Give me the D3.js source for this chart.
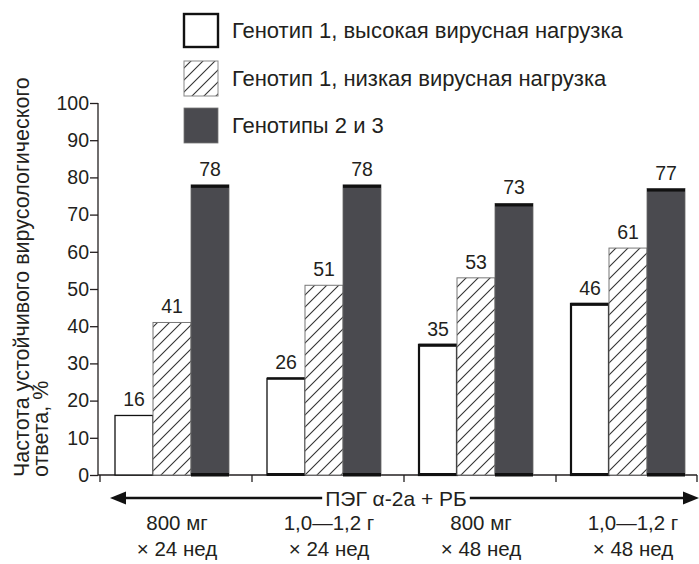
<!DOCTYPE html>
<html><head><meta charset="utf-8">
<script src="https://cdn.jsdelivr.net/npm/d3@7"></script>
<style>body{margin:0;background:#fff}svg{display:block;font-family:"Liberation Sans",Arial,sans-serif}</style>
</head><body>
<svg id="c" width="699" height="564"></svg>
<script>
const groups = ["g1","g2","g3","g4"];
const groupLine1 = ["800 мг","1,0—1,2 г","800 мг","1,0—1,2 г"];
const groupLine2 = ["× 24 нед","× 24 нед","× 48 нед","× 48 нед"];
const seriesNames = ["Генотип 1, высокая вирусная нагрузка","Генотип 1, низкая вирусная нагрузка","Генотипы 2 и 3"];
const highLoad = [16,26,35,46];
const lowLoad = [41,51,53,61];
const geno23 = [78,78,73,77];
const yTicks = [0,10,20,30,40,50,60,70,80,90,100];
const seriesKeys = ["high","low","g23"];
const seriesData = {high: highLoad, low: lowLoad, g23: geno23};

const svg = d3.select("#c");
const txt = "#231f20";
const dark = "#4a4a4f";
const FF = "Liberation Sans, Arial, sans-serif";

const defs = svg.append("defs");
const pat = defs.append("pattern").attr("id","hatch").attr("patternUnits","userSpaceOnUse")
  .attr("width",12).attr("height",12);
pat.append("rect").attr("width",12).attr("height",12).attr("fill","#fff");
pat.append("path").attr("d","M-3,3 L3,-3 M0,12 L12,0 M9,15 L15,9").attr("stroke","#333").attr("stroke-width",1.1);

const y = d3.scaleLinear().domain([0,100]).range([475,103]);
const x0 = d3.scaleBand().domain(groups).range([100,708]);
const x1 = d3.scaleBand().domain(seriesKeys).range([15,129]);

// y axis
const yAxis = svg.append("g").attr("transform","translate(98,0)")
  .call(d3.axisLeft(y).tickValues(yTicks).tickSize(8).tickPadding(1));
yAxis.select(".domain").attr("stroke",txt).attr("stroke-width",1.3).attr("d","M0,103V475");
yAxis.selectAll(".tick line").attr("stroke",txt).attr("stroke-width",1.3);
yAxis.selectAll(".tick text").attr("fill",txt).attr("font-size",19.5).attr("font-family",FF);

// x axis line
svg.append("line").attr("x1",98).attr("x2",697).attr("y1",475).attr("y2",475).attr("stroke",txt).attr("stroke-width",1.3);
svg.selectAll(".gtick").data(groups.concat(["end"])).enter().append("line")
  .attr("x1",d=> d==="end"?697:x0(d)).attr("x2",d=> d==="end"?697:x0(d))
  .attr("y1",475).attr("y2",482).attr("stroke",txt).attr("stroke-width",1.3);

// bars
groups.forEach((g,gi)=>{
  const gx = x0(g);
  seriesKeys.forEach((k)=>{
    const v = seriesData[k][gi];
    const bx = gx + x1(k), bw = x1.bandwidth();
    const top = y(v), h = y(0)-y(v);
    if(k==="high"){
      svg.append("rect").attr("x",bx).attr("y",top).attr("width",bw).attr("height",h)
        .attr("fill","#fff").attr("stroke","#111").attr("stroke-width", gi>=2?2.2:1.3);
      if(gi>=1){
        svg.append("rect").attr("x",bx).attr("y",top-1).attr("width",bw).attr("height",gi>=2?3:2.5).attr("fill","#111");
        svg.append("rect").attr("x",bx).attr("y",y(0)-2).attr("width",bw).attr("height",3).attr("fill","#111");
      }
    } else if(k==="low"){
      svg.append("rect").attr("x",bx).attr("y",top).attr("width",bw).attr("height",h)
        .attr("fill","url(#hatch)").attr("stroke","#777").attr("stroke-width",1);
    } else {
      svg.append("rect").attr("x",bx).attr("y",top).attr("width",bw).attr("height",h)
        .attr("fill",dark).attr("stroke","#666").attr("stroke-width",0.8);
      svg.append("rect").attr("x",bx).attr("y",top).attr("width",bw).attr("height",3).attr("fill","#111");
      svg.append("rect").attr("x",bx).attr("y",y(0)-2).attr("width",bw).attr("height",3.5).attr("fill","#111");
    }
    svg.append("text").attr("x",bx+bw/2).attr("y",top-9).attr("text-anchor","middle")
      .attr("font-size",19.5).attr("fill",txt).text(v);
  });
  const cx = gx + 15 + 114/2 + 5;
  svg.append("text").attr("x",cx).attr("y",530).attr("text-anchor","middle").attr("font-size",20.5).attr("fill",txt).text(groupLine1[gi]);
  svg.append("text").attr("x",cx).attr("y",556).attr("text-anchor","middle").attr("font-size",20.5).attr("fill",txt).text(groupLine2[gi]);
});

// arrow
svg.append("line").attr("x1",116).attr("x2",693).attr("y1",498).attr("y2",498).attr("stroke","#111").attr("stroke-width",2.5);
svg.append("path").attr("d","M110,498 L126,491.5 L126,504.5 Z").attr("fill","#111");
svg.append("path").attr("d","M699,498 L683,491.5 L683,504.5 Z").attr("fill","#111");
const abg = svg.append("rect").attr("fill","#fff");
const at = svg.append("text").attr("x",396).attr("y",505.5).attr("text-anchor","middle").attr("font-size",21).attr("fill",txt)
  .text("ПЭГ α-2а + РБ");
const bb = at.node().getBBox();
abg.attr("x",bb.x-3).attr("y",487).attr("width",bb.width+6).attr("height",22);

// legend
const legY = [13,61,108];
seriesKeys.forEach((k,i)=>{
  const ly = legY[i];
  if(k==="high"){
    svg.append("rect").attr("x",184).attr("y",ly+1).attr("width",34).attr("height",33).attr("fill","#fff").attr("stroke","#111").attr("stroke-width",2.4);
  } else if(k==="low"){
    svg.append("rect").attr("x",184).attr("y",ly).attr("width",34).attr("height",35).attr("fill","url(#hatch)").attr("stroke","#888").attr("stroke-width",1);
  } else {
    svg.append("rect").attr("x",184).attr("y",ly).attr("width",34).attr("height",35).attr("fill",dark).attr("stroke","#777").attr("stroke-width",0.8);
  }
  svg.append("text").attr("x",232).attr("y",ly+25).attr("font-size",22).attr("fill",txt).text(seriesNames[i]);
});

// y label
const yl = svg.append("g").attr("transform","translate(0,477) rotate(-90)");
yl.append("text").attr("x",0).attr("y",29).attr("font-size",21.5).attr("fill",txt).text("Частота устойчивого вирусологического");
yl.append("text").attr("x",0).attr("y",48).attr("font-size",21.5).attr("fill",txt).text("ответа, %");
</script>
</body></html>
